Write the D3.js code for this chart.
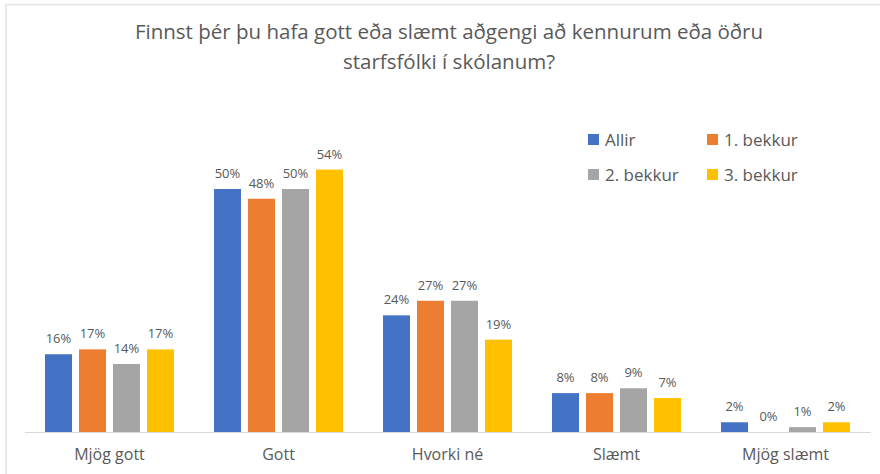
<!DOCTYPE html>
<html>
<head>
<meta charset="utf-8">
<script src="https://cdn.jsdelivr.net/npm/d3@7"></script>
<style>
  body { margin: 0; background: #fff; }
  text { font-family: "Open Sans", "Noto Sans", sans-serif; fill: #595959; }
</style>
</head>
<body>
<svg id="chart" width="880" height="474"></svg>
<script>
// categories and series
var categories = ["Mjög gott", "Gott", "Hvorki né", "Slæmt", "Mjög slæmt"];
var seriesNames = ["Allir", "1. bekkur", "2. bekkur", "3. bekkur"];
var colors = ["#4472C4", "#ED7D31", "#A5A5A5", "#FFC000"];

var allir = [16, 50, 24, 8, 2];
var bekkur1 = [17, 48, 27, 8, 0];
var bekkur2 = [14, 50, 27, 9, 1];
var bekkur3 = [17, 54, 19, 7, 2];

var titleLines = ["Finnst þér þu hafa gott eða slæmt aðgengi að kennurum eða öðru",
                  "starfsfólki í skólanum?"];

function drawChart()
{
    var svg = d3.select("#chart");
    var values = [allir, bekkur1, bekkur2, bekkur3];

    // chart frame (thin light border like the source)
    svg.append("path")
            .attr("d", "M6,474V4.5H880")
            .style("fill", "none")
            .style("stroke", "#e3e3e3")
            .style("stroke-width", "1.5px");

    var x0 = d3.scaleBand()
            .domain(categories)
            .range([25, 870])
            .paddingInner(40 / 169)
            .paddingOuter(20 / 169);

    var x1 = d3.scaleBand()
            .domain(seriesNames)
            .range([0, x0.bandwidth()])
            .paddingInner(7 / 34);

    var y = d3.scaleLinear()
            .domain([0, 50])
            .range([432, 189]);

    // title
    svg.append("text")
            .attr("x", 449)
            .attr("y", 39)
            .attr("text-anchor", "middle")
            .style("font-size", "20.5px")
            .selectAll("tspan")
            .data(titleLines)
            .enter().append("tspan")
            .attr("x", 449)
            .attr("dy", function(d, i) { return i ? 30 : 0; })
            .text(function(d) { return d; });

    // bars
    var groups = svg.selectAll(".series")
            .data(seriesNames)
            .enter().append("g")
            .attr("class", "series");

    groups.each(function(name, s) {
        var g = d3.select(this);
        g.selectAll("rect")
                .data(values[s])
                .enter().append("rect")
                .attr("x", function(d, i) { return x0(categories[i]) + x1(name); })
                .attr("y", function(d) { return y(d); })
                .attr("width", x1.bandwidth())
                .attr("height", function(d) { return y(0) - y(d); })
                .style("fill", colors[s]);

        g.selectAll("text")
                .data(values[s])
                .enter().append("text")
                .attr("x", function(d, i) { return x0(categories[i]) + x1(name) + x1.bandwidth() / 2; })
                .attr("y", function(d) { return y(d) - 11; })
                .attr("text-anchor", "middle")
                .style("font-size", "13px")
                .text(function(d) { return d + "%"; });
    });

    // baseline and category labels
    var xAxis = svg.append("g")
            .attr("transform", "translate(0,432)")
            .call(d3.axisBottom(x0).tickSize(0).tickSizeOuter(0).tickPadding(17));
    xAxis.select(".domain")
            .attr("d", "M25,0.5H870.7")
            .style("stroke", "#d9d9d9");
    xAxis.selectAll(".tick text")
            .style("font-size", "16px")
            .style("font-family", "\"Open Sans\", sans-serif")
            .style("fill", "#595959");

    // legend
    var legend = svg.selectAll(".legend")
            .data(seriesNames)
            .enter().append("g")
            .attr("class", "legend")
            .attr("transform", function(d, i) {
                return "translate(" + (588 + (i % 2) * 119) + "," + (134 + Math.floor(i / 2) * 35) + ")";
            });
    legend.append("rect")
            .attr("width", 11)
            .attr("height", 11)
            .style("fill", function(d, i) { return colors[i]; });
    legend.append("text")
            .attr("x", 17)
            .attr("y", 12)
            .style("font-size", "17px")
            .text(function(d) { return d; });
}

drawChart();
</script>
</body>
</html>
